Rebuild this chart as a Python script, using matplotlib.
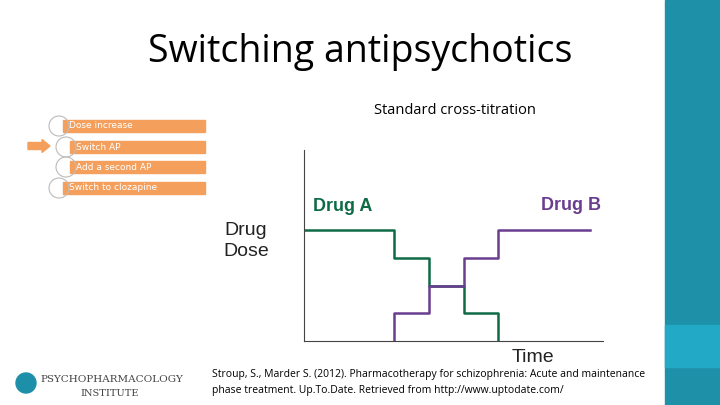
import matplotlib
matplotlib.use("Agg")
import matplotlib.pyplot as plt
from matplotlib.patches import Rectangle, Circle, FancyArrow

time_a = [0, 2.6, 2.6, 3.6, 3.6, 4.6, 4.6, 5.6, 5.6]
dose_a = [4, 4, 3, 3, 2, 2, 1, 1, 0]
time_b = [2.6, 2.6, 3.6, 3.6, 4.6, 4.6, 5.6, 5.6, 8.25]
dose_b = [0, 1, 1, 2, 2, 3, 3, 4, 4]
menu = ["Dose increase", "Switch AP", "Add a second AP", "Switch to clozapine"]

GREEN = "#0f6b45"
PURPLE = "#6a3d8f"

fig = plt.figure(figsize=(7.2, 4.05), dpi=100)
bg = fig.add_axes([0, 0, 1, 1])
bg.set_xlim(0, 720); bg.set_ylim(405, 0); bg.axis("off")
bg.add_patch(Rectangle((665, 0), 55, 405, color="#1e90a8"))
bg.add_patch(Rectangle((665, 325), 55, 42, color="#22a9c6"))
bg.text(360, 52, "Switching antipsychotics", ha="center", va="center",
        fontsize=27, family="Open Sans", color="black")
bg.text(455, 111, "Standard cross-titration", ha="center", va="center",
        fontsize=10.5, family="Open Sans")
bg.text(212, 374, "Stroup, S., Marder S. (2012). Pharmacotherapy for schizophrenia: Acute and maintenance",
        ha="left", va="center", fontsize=7.5, family="Open Sans")
bg.text(212, 390, "phase treatment. Up.To.Date. Retrieved from http://www.uptodate.com/",
        ha="left", va="center", fontsize=7.5, family="Open Sans")
bg.text(246, 241, "Drug\nDose", ha="center", va="center", fontsize=14,
        family="Liberation Sans", color="#222222", linespacing=1.25)
bg.text(533, 357, "Time", ha="center", va="center", fontsize=14,
        family="Liberation Sans", color="#222222")
# menu
ys = [126, 147, 167, 188]
xs = [63, 70, 70, 63]
for y, x0, t in zip(ys, xs, menu):
    bg.add_patch(Rectangle((x0, y - 6), 205 - x0, 12, color="#f4a05c"))
    bg.add_patch(Circle((x0 - 4, y), 10, fill=False, ec="#bbbbbb", lw=0.8))
    bg.text(x0 + 6, y, t, ha="left", va="center", fontsize=6.5, color="white")
bg.add_patch(FancyArrow(28, 146, 14, 0, width=7, head_width=13, head_length=8,
                        color="#f4a05c", length_includes_head=False))
# logo
bg.add_patch(Circle((26, 383), 10, color="#1e8fa8"))
bg.text(40, 380, "PSYCHOPHARMACOLOGY", fontsize=7.5, family="DejaVu Serif",
        color="#444444", va="center")
bg.text(80, 394, "INSTITUTE", fontsize=7, family="DejaVu Serif",
        color="#444444", va="center")

ax = fig.add_axes([0.422, 0.158, 0.415, 0.472])
ax.plot(time_a, dose_a, color=GREEN, lw=1.8)
ax.plot(time_b, dose_b, color=PURPLE, lw=1.8)
ax.set_xlim(0, 8.6); ax.set_ylim(0, 6.9)
ax.set_xticks([]); ax.set_yticks([])
for s in ["top", "right"]:
    ax.spines[s].set_visible(False)
for s in ["left", "bottom"]:
    ax.spines[s].set_color("#444444"); ax.spines[s].set_linewidth(0.8)
ax.patch.set_alpha(0)
ax.text(0.25, 4.85, "Drug A", color=GREEN, fontsize=13, fontweight="bold",
        family="Liberation Sans", va="center")
ax.text(8.55, 4.9, "Drug B", color=PURPLE, fontsize=13, fontweight="bold",
        family="Liberation Sans", va="center", ha="right")
fig.savefig("out.png", dpi=100)
